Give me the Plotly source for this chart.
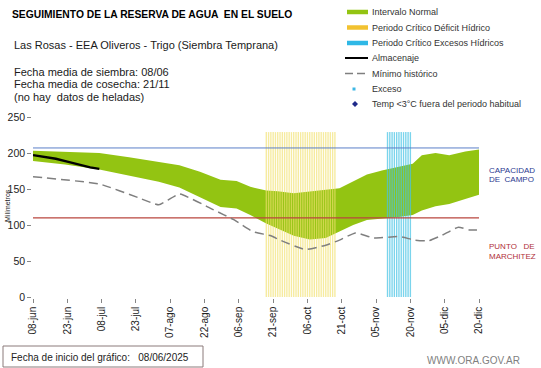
import pandas as pd
import plotly.graph_objects as go

# ---------------- data ----------------
fechas_banda = ["2025-06-08", "2025-06-22", "2025-07-07", "2025-07-20", "2025-08-02", "2025-08-11",
                "2025-08-20", "2025-08-29", "2025-09-05", "2025-09-11", "2025-09-18", "2025-09-23",
                "2025-09-30", "2025-10-07", "2025-10-14", "2025-10-20", "2025-10-26", "2025-11-01",
                "2025-11-08", "2025-11-15", "2025-11-21", "2025-11-25", "2025-12-01", "2025-12-07",
                "2025-12-14", "2025-12-20"]
banda_superior = [203, 202, 200, 194, 188, 183, 174, 163, 161, 153, 148, 147, 144, 147, 149, 151,
                  160, 170, 176, 181, 185, 197, 200, 197, 202, 205]
banda_inferior = [189, 184, 177, 169, 160, 152, 139, 125, 123, 114, 102, 95, 85, 80, 82, 91,
                  100, 107, 109, 111, 114, 120, 126, 129, 136, 142]

fechas_minimo = ["2025-06-08", "2025-07-07", "2025-07-24", "2025-08-02", "2025-08-11", "2025-08-26",
                 "2025-09-04", "2025-09-12", "2025-09-20", "2025-09-24", "2025-10-05", "2025-10-14",
                 "2025-10-20", "2025-10-27", "2025-11-04", "2025-11-15", "2025-11-22", "2025-11-28",
                 "2025-12-04", "2025-12-11", "2025-12-16", "2025-12-20"]
minimo_historico = [167, 157, 138, 128, 143, 121, 107, 91, 85, 79, 66, 72, 79, 89, 82, 84, 79, 78,
                    86, 97, 93, 93]

fechas_almacenaje = ["2025-06-08", "2025-06-13", "2025-06-18", "2025-06-23", "2025-06-28",
                     "2025-07-03", "2025-07-07"]
almacenaje = [197, 195, 192, 188, 184, 180, 178]

periodo_deficit = ("2025-09-18", "2025-10-18")
periodo_excesos = ("2025-11-10", "2025-11-20")
altura_periodo = 229

capacidad_campo = 207
punto_marchitez = 110

rango_fechas = ("2025-06-08", "2025-12-20")
tick_fechas = ["2025-06-08", "2025-06-23", "2025-07-08", "2025-07-23", "2025-08-07", "2025-08-22",
               "2025-09-06", "2025-09-21", "2025-10-06", "2025-10-21", "2025-11-05", "2025-11-20",
               "2025-12-05", "2025-12-20"]
tick_textos = ["08-jun", "23-jun", "08-jul", "23-jul", "07-ago", "22-ago", "06-sep", "21-sep",
               "06-oct", "21-oct", "05-nov", "20-nov", "05-dic", "20-dic"]
y_ticks = [0, 50, 100, 150, 200, 250]

leyenda_textos = ["Intervalo Normal", "Periodo Crítico Déficit Hídrico", "Periodo Crítico Excesos Hídricos",
                  "Almacenaje", "Mínimo histórico", "Exceso", "Temp <3°C fuera del periodo habitual"]

# ---------------- layout helpers ----------------
W, H = 541, 368
L, R, T, B = 33, 479, 117, 297


def px(xp):
    return (xp - L) / (R - L)


def py(yp):
    return (B - yp) / (B - T)


VERDE = "#93C412"
AMARILLO_LEY = "#F2C230"
CIAN_LEY = "#2FB8E6"
FONT = "Liberation Sans, Arial, sans-serif"

dias_def = pd.date_range(*periodo_deficit, freq="D")
dias_exc = pd.date_range(*periodo_excesos, freq="D")
DIA_MS = 86400000

fig = go.Figure()

# green band
fig.add_trace(go.Scatter(x=fechas_banda, y=banda_superior, mode="lines", line=dict(width=0, color=VERDE),
                         showlegend=False, hoverinfo="skip", zorder=0))
fig.add_trace(go.Scatter(x=fechas_banda, y=banda_inferior, mode="lines", line=dict(width=0, color=VERDE),
                         fill="tonexty", fillcolor=VERDE, showlegend=False, hoverinfo="skip", zorder=0))

# critical periods
fig.add_trace(go.Bar(x=dias_def, y=[altura_periodo] * len(dias_def), width=DIA_MS * 0.6,
                     marker=dict(color="rgba(242,224,110,0.66)", line=dict(width=0)),
                     showlegend=False, zorder=1))
fig.add_trace(go.Bar(x=dias_exc, y=[altura_periodo] * len(dias_exc), width=DIA_MS * 0.6,
                     marker=dict(color="rgba(70,195,228,0.72)", line=dict(width=0)),
                     showlegend=False, zorder=1))

# reference lines
fig.add_trace(go.Scatter(x=list(rango_fechas), y=[capacidad_campo] * 2, mode="lines",
                         line=dict(color="#5A7FC8", width=1), showlegend=False, zorder=2))
fig.add_trace(go.Scatter(x=list(rango_fechas), y=[punto_marchitez] * 2, mode="lines",
                         line=dict(color="#B9463E", width=1.2), showlegend=False, zorder=2))

# minimum and storage
fig.add_trace(go.Scatter(x=fechas_minimo, y=minimo_historico, mode="lines", name="Mínimo histórico",
                         line=dict(color="#7F7F7F", width=1.5, dash="9px,5px", shape="spline", smoothing=0.4),
                         showlegend=False, zorder=2))
fig.add_trace(go.Scatter(x=fechas_almacenaje, y=almacenaje, mode="lines", name="Almacenaje",
                         line=dict(color="black", width=2.4), showlegend=False, zorder=3))

annotations = [
    dict(x=px(10), y=py(14), text="<b>SEGUIMIENTO DE LA RESERVA DE AGUA  EN EL SUELO</b>",
         font=dict(size=10.3, color="black")),
    dict(x=px(12), y=py(45), text="Las Rosas - EEA Oliveros - Trigo (Siembra Temprana)",
         font=dict(size=11, color="#1a1a1a")),
    dict(x=px(12), y=py(71.5), text="Fecha media de siembra: 08/06", font=dict(size=11, color="#1a1a1a")),
    dict(x=px(12), y=py(84), text="Fecha media de cosecha: 21/11", font=dict(size=11, color="#1a1a1a")),
    dict(x=px(12), y=py(97), text="(no hay&nbsp; datos de heladas)", font=dict(size=11, color="#1a1a1a")),
    dict(x=px(487), y=py(170), text="CAPACIDAD", font=dict(size=8, color="#2B3990")),
    dict(x=px(487), y=py(179.5), text="DE&nbsp; CAMPO", font=dict(size=8, color="#2B3990")),
    dict(x=px(487), y=py(246.5), text="PUNTO&nbsp;&nbsp; DE", font=dict(size=8, color="#B0303A")),
    dict(x=px(487), y=py(256), text="MARCHITEZ", font=dict(size=8, color="#B0303A")),
    dict(x=px(9), y=py(357), text="Fecha de inicio del gráfico:&nbsp;&nbsp; 08/06/2025",
         font=dict(size=10, color="#222222")),
    dict(x=px(425), y=py(360), text="WWW.ORA.GOV.AR", font=dict(size=10, color="#7F7F7F")),
]

# legend (drawn manually to match the compact spacing of the original)
filas_ley = [12, 27.5, 43, 58, 73.5, 89, 104]
for texto, fila in zip(leyenda_textos, filas_ley):
    annotations.append(dict(x=px(370), y=py(fila), text=texto, font=dict(size=9, color="#333333")))

for a in annotations:
    a.update(xref="paper", yref="paper", xanchor="left", yanchor="middle", showarrow=False)
annotations.append(dict(x=px(7), y=py(206), xref="paper", yref="paper", text="Milímetros",
                        textangle=-90, showarrow=False, font=dict(size=7, color="#222222"),
                        xanchor="center", yanchor="middle"))

shapes = [dict(type="rect", xref="paper", yref="paper", x0=px(3), x1=px(203), y0=py(367), y1=py(346),
               line=dict(color="#8B7B7B", width=1))]
ley_lineas = [
    (filas_ley[0], VERDE, 4.5, "solid", 347),
    (filas_ley[1], AMARILLO_LEY, 4.5, "solid", 347),
    (filas_ley[2], CIAN_LEY, 4.5, "solid", 347),
    (filas_ley[3], "black", 2, "solid", 345),
    (filas_ley[4], "#7F7F7F", 1.5, "8px,4px", 345),
]
for fila, color, ancho, dash, x0 in ley_lineas:
    shapes.append(dict(type="line", xref="paper", yref="paper", x0=px(x0), x1=px(368), y0=py(fila),
                       y1=py(fila), line=dict(color=color, width=ancho, dash=dash)))
# Exceso marker
shapes.append(dict(type="rect", xref="paper", yref="paper", x0=px(352.5), x1=px(355.5),
                   y0=py(filas_ley[5] + 1.5), y1=py(filas_ley[5] - 1.5),
                   fillcolor="#3DB7E4", line=dict(width=0)))
# Temp diamond
cy = filas_ley[6]
shapes.append(dict(type="path", xref="paper", yref="paper",
                   path=f"M {px(355)} {py(cy - 3)} L {px(358)} {py(cy)} L {px(355)} {py(cy + 3)} "
                        f"L {px(352)} {py(cy)} Z",
                   fillcolor="#1F2A8A", line=dict(width=0)))

fig.update_layout(
    width=W, height=H,
    margin=dict(l=L, r=W - R, t=T, b=H - B, pad=0, autoexpand=False),
    paper_bgcolor="white", plot_bgcolor="white",
    font=dict(family=FONT, color="#222222"),
    barmode="overlay",
    showlegend=False,
    hovermode=False,
    annotations=annotations,
    shapes=shapes,
    xaxis=dict(type="date", range=list(rango_fechas), tickvals=tick_fechas, ticktext=tick_textos,
               tickangle=-90, showgrid=False, zeroline=False, showline=True, linecolor="#868686",
               linewidth=1.5, ticks="outside", ticklen=4, tickcolor="#868686",
               tickfont=dict(size=10, color="#222222")),
    yaxis=dict(range=[0, 250], tickvals=y_ticks, showgrid=False, zeroline=False, showline=True,
               linecolor="#868686", linewidth=1.5, ticks="outside", ticklen=4, tickcolor="#868686",
               tickfont=dict(size=10.5, color="#222222")),
)

fig.write_html("out.html", config={"displayModeBar": False},
               post_script="document.body.style.margin='0px';")
